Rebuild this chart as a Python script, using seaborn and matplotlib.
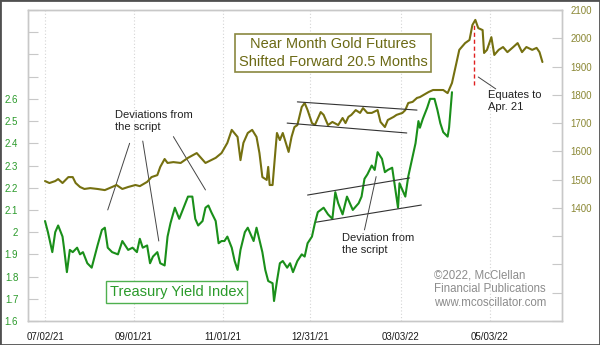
import numpy as np
import pandas as pd
import matplotlib
matplotlib.use("Agg")
import matplotlib.pyplot as plt
import matplotlib.dates as mdates
from matplotlib.patches import Rectangle
import seaborn as sns

# ---------------- data ----------------
tsy_dates = [
    '2021-07-02', '2021-07-04', '2021-07-07', '2021-07-09', '2021-07-11', '2021-07-14', '2021-07-15',
    '2021-07-17', '2021-07-19', '2021-07-21', '2021-07-24', '2021-07-26', '2021-07-28', '2021-07-31',
    '2021-08-03', '2021-08-07', '2021-08-10', '2021-08-12', '2021-08-14', '2021-08-17', '2021-08-21',
    '2021-08-24', '2021-08-28', '2021-08-31',
    '2021-09-03', '2021-09-05', '2021-09-07', '2021-09-10', '2021-09-12', '2021-09-14', '2021-09-17',
    '2021-09-19', '2021-09-22', '2021-09-24', '2021-09-26', '2021-09-29',
    '2021-10-02', '2021-10-05', '2021-10-08', '2021-10-11', '2021-10-13', '2021-10-15', '2021-10-18',
    '2021-10-20', '2021-10-22', '2021-10-24', '2021-10-27', '2021-10-29', '2021-10-31',
    '2021-11-02', '2021-11-04', '2021-11-07', '2021-11-09', '2021-11-11', '2021-11-13', '2021-11-16',
    '2021-11-18', '2021-11-22', '2021-11-24', '2021-11-28', '2021-11-30',
    '2021-12-02', '2021-12-05', '2021-12-06', '2021-12-08', '2021-12-10', '2021-12-12', '2021-12-15',
    '2021-12-17', '2021-12-19', '2021-12-22', '2021-12-25', '2021-12-27', '2021-12-29',
    '2022-01-01', '2022-01-03', '2022-01-05', '2022-01-09', '2022-01-12', '2022-01-15', '2022-01-17',
    '2022-01-19', '2022-01-22', '2022-01-25', '2022-01-27', '2022-01-29',
    '2022-02-02', '2022-02-04', '2022-02-06', '2022-02-08', '2022-02-11', '2022-02-13', '2022-02-15',
    '2022-02-18', '2022-02-20', '2022-02-22', '2022-02-25', '2022-02-27',
    '2022-03-01', '2022-03-02', '2022-03-04', '2022-03-06', '2022-03-08', '2022-03-11', '2022-03-13',
    '2022-03-15', '2022-03-16', '2022-03-18', '2022-03-21', '2022-03-23', '2022-03-26', '2022-03-28',
    '2022-03-30',
    '2022-04-01', '2022-04-04', '2022-04-05', '2022-04-07',
]
tsy_values = [
    2.05, 2.00, 1.91, 2.00, 2.03, 1.98, 1.93,
    1.82, 1.92, 1.91, 1.93, 1.90, 1.91, 1.86,
    1.84, 1.94, 2.01, 2.02, 1.93, 1.91, 1.90,
    1.96, 1.92, 1.93,
    1.91, 1.97, 1.93, 1.94, 1.86, 1.89, 1.91,
    1.86, 1.85, 1.98, 2.04, 2.11,
    2.06, 2.11, 2.16, 2.16, 2.06, 2.03, 2.05,
    2.11, 2.12, 2.09, 2.05, 1.95, 1.96,
    1.96, 1.98, 1.93, 1.87, 1.83, 1.92, 2.00,
    2.02, 1.96, 2.02, 1.91, 1.83,
    1.78, 1.77, 1.69, 1.78, 1.86, 1.87, 1.84,
    1.86, 1.82, 1.87, 1.90, 1.89, 1.95,
    1.98, 2.04, 2.09, 2.11, 2.08, 2.06, 2.18,
    2.13, 2.08, 2.16, 2.13, 2.10,
    2.13, 2.16, 2.24, 2.26, 2.30, 2.28, 2.36,
    2.33, 2.27, 2.28, 2.29, 2.20,
    2.11, 2.22, 2.19, 2.16, 2.25, 2.34, 2.40,
    2.50, 2.47, 2.51, 2.56, 2.60, 2.60, 2.55,
    2.49,
    2.45, 2.43, 2.47, 2.63,
]

gold_dates = [
    '2021-07-02', '2021-07-05', '2021-07-09', '2021-07-11', '2021-07-14', '2021-07-18', '2021-07-21',
    '2021-07-23', '2021-07-26', '2021-07-29',
    '2021-08-02', '2021-08-07', '2021-08-12', '2021-08-17', '2021-08-20', '2021-08-24', '2021-08-28',
    '2021-09-02', '2021-09-05', '2021-09-10', '2021-09-13', '2021-09-17', '2021-09-19', '2021-09-22',
    '2021-09-24', '2021-09-28',
    '2021-10-03', '2021-10-08', '2021-10-14', '2021-10-20', '2021-10-27', '2021-10-31',
    '2021-11-04', '2021-11-07', '2021-11-11', '2021-11-13', '2021-11-15', '2021-11-18', '2021-11-21',
    '2021-11-24', '2021-11-26', '2021-11-28',
    '2021-12-01', '2021-12-02', '2021-12-03', '2021-12-05', '2021-12-07', '2021-12-08', '2021-12-10',
    '2021-12-12', '2021-12-16', '2021-12-18', '2021-12-20', '2021-12-22', '2021-12-25', '2021-12-27',
    '2021-12-29',
    '2022-01-01', '2022-01-03', '2022-01-07', '2022-01-09', '2022-01-12', '2022-01-15', '2022-01-19',
    '2022-01-22', '2022-01-24', '2022-01-26', '2022-01-28', '2022-01-31',
    '2022-02-03', '2022-02-05', '2022-02-08', '2022-02-11', '2022-02-15', '2022-02-17', '2022-02-20',
    '2022-02-22', '2022-02-26', '2022-02-28',
    '2022-03-04', '2022-03-06', '2022-03-08', '2022-03-11', '2022-03-14', '2022-03-16', '2022-03-22',
    '2022-03-25',
    '2022-04-01', '2022-04-04', '2022-04-07', '2022-04-10', '2022-04-12', '2022-04-16', '2022-04-19',
    '2022-04-21', '2022-04-23', '2022-04-25', '2022-04-28', '2022-04-29',
    '2022-05-01', '2022-05-04', '2022-05-06', '2022-05-09', '2022-05-12', '2022-05-15', '2022-05-19',
    '2022-05-22', '2022-05-25', '2022-05-28',
    '2022-06-01', '2022-06-04', '2022-06-06', '2022-06-08',
]
gold_values = [
    1495, 1488, 1495, 1502, 1488, 1509, 1509, 1488, 1474, 1467,
    1470, 1467, 1463, 1474, 1481, 1467, 1474,
    1481, 1477, 1492, 1509, 1516, 1545, 1573, 1559, 1562,
    1559, 1577, 1594, 1559, 1577, 1594,
    1630, 1676, 1651, 1569, 1630, 1665, 1676, 1651, 1594, 1509,
    1499, 1545, 1481, 1481, 1605, 1665, 1640, 1665, 1598, 1651, 1686, 1693, 1757, 1771, 1746,
    1700, 1693, 1739, 1729, 1693, 1704, 1693, 1718, 1700, 1722, 1729, 1746,
    1736, 1753, 1736, 1736, 1746, 1704, 1686, 1711, 1722, 1729,
    1736, 1746, 1771, 1775, 1789, 1792, 1810, 1817,
    1817, 1806, 1842, 1912, 1959, 1983, 1994, 2047, 2065, 2036, 2029, 1948,
    1959, 2004, 1941, 1959, 1969, 1951, 1969, 1983, 1951, 1969,
    1959, 1966, 1951, 1916,
]

x_tick_dates = ['2021-07-02', '2021-09-01', '2021-11-01', '2021-12-31', '2022-03-03', '2022-05-03']
tsy_ticks = [1.6, 1.7, 1.8, 1.9, 2.0, 2.1, 2.2, 2.3, 2.4, 2.5, 2.6, 2.7, 2.8, 2.9, 3.0]
tsy_tick_labels = ['1.6', '1.7', '1.8', '1.9', '2', '2.1', '2.2', '2.3', '2.4', '2.5', '2.6', '', '', '', '']
gold_ticks = [1000, 1100, 1200, 1300, 1400, 1500, 1600, 1700, 1800, 1900, 2000, 2100]
gold_tick_labels = ['', '', '', '', '1400', '1500', '1600', '1700', '1800', '1900', '2000', '2100']

title_text = 'Near Month Gold Futures\nShifted Forward 20.5 Months'
tsy_label = 'Treasury Yield Index'
note_left = 'Deviations from\nthe script'
note_mid = 'Deviation from\nthe script'
note_right = 'Equates to\nApr. 21'
credit = '\u00a92022, McClellan\nFinancial Publications\nwww.mcoscillator.com'

# annotation lines (data coordinates)
gold_channel_upper = (['2021-12-22', '2022-03-14'], [1775, 1746])
gold_channel_lower = (['2021-12-15', '2022-03-07'], [1700, 1665])
tsy_channel_upper = (['2021-12-29', '2022-03-09'], [2.167, 2.244])
tsy_channel_lower = (['2022-01-04', '2022-03-17'], [2.045, 2.122])
tsy_pointers = [
    (['2021-08-29', '2021-08-14'], [2.40, 2.10]),
    (['2021-09-07', '2021-09-18'], [2.41, 1.96]),
    (['2021-09-28', '2021-10-20'], [2.43, 2.19]),
    (['2022-02-14', '2022-02-06'], [2.25, 2.01]),
]
gold_pointer = (['2022-04-25', '2022-05-07'], [1863, 1821])
shift_marker = (['2022-04-22', '2022-04-22'], [1835, 2047])

# ---------------- styling ----------------
sns.set_style('white')
plt.rcParams['font.family'] = ['Liberation Sans', 'DejaVu Sans']

GOLD = '#757010'
GOLD_TXT = '#6b6914'
GOLD_TICK = '#8a8734'
GREEN = '#1a8f1a'
GREEN_TXT = '#2a9a2a'
FRAME = '#c8c8c8'

fig = plt.figure(figsize=(6.0, 3.45), dpi=100)
ax = fig.add_axes([28 / 600, 24 / 345, 534 / 600, 311 / 345])
ax2 = ax.twinx()

tsy_df = pd.DataFrame({'date': pd.to_datetime(tsy_dates), 'value': tsy_values})
gold_df = pd.DataFrame({'date': pd.to_datetime(gold_dates), 'value': gold_values})

sns.lineplot(data=tsy_df, x='date', y='value', ax=ax, color=GREEN, lw=1.5)
sns.lineplot(data=gold_df, x='date', y='value', ax=ax2, color=GOLD, lw=1.5)

for a in (ax, ax2):
    a.set_xlabel('')
    a.set_ylabel('')
    for s in a.spines.values():
        s.set_color(FRAME)
        s.set_linewidth(1.0)

ax.set_xlim(pd.Timestamp('2021-06-20 08:00'), pd.Timestamp('2022-06-21 10:00'))
ax.set_ylim(1.6, 3.0)
ax2.set_ylim(1000, 2100)

ax.set_xticks(pd.to_datetime(x_tick_dates))
ax.xaxis.set_major_formatter(mdates.DateFormatter('%m/%d/%y'))
ax.tick_params(axis='x', length=0, pad=8, labelsize=7, labelcolor='#1a1a1a')
ax.grid(axis='x', color='#d4d4d4', linestyle=(0, (1, 2)), linewidth=0.8)
ax.grid(axis='y', visible=False)
ax2.grid(False)

ax.set_yticks(tsy_ticks)
ax.set_yticklabels(tsy_tick_labels)
ax.tick_params(axis='y', direction='in', length=7, color=FRAME, pad=7,
               labelsize=7, labelcolor=GREEN_TXT)
ax2.set_yticks(gold_ticks)
ax2.set_yticklabels(gold_tick_labels)
ax2.tick_params(axis='y', direction='in', length=7, color=FRAME, pad=6,
                labelsize=7, labelcolor=GOLD_TICK)

# channel lines
for xs, ys in (gold_channel_upper, gold_channel_lower):
    ax2.plot(pd.to_datetime(xs), ys, color='#333333', lw=0.8)
for xs, ys in (tsy_channel_upper, tsy_channel_lower):
    ax.plot(pd.to_datetime(xs), ys, color='#333333', lw=0.8)
for xs, ys in tsy_pointers:
    ax.plot(pd.to_datetime(xs), ys, color='#444444', lw=0.7)
ax2.plot(pd.to_datetime(gold_pointer[0]), gold_pointer[1], color='#444444', lw=0.7)
ax2.plot(pd.to_datetime(shift_marker[0]), shift_marker[1], color='#e02020', lw=1.0,
         linestyle=(0, (3, 2)))

# texts
ax2.text(0.572, 0.862, title_text, transform=ax2.transAxes, ha='center', va='center',
         fontsize=10.5, color=GOLD_TXT, linespacing=1.3,
         bbox=dict(boxstyle='square,pad=0.25', fc='white', ec='#8a8740', lw=1.2))
ax2.text(0.278, 0.093, tsy_label, transform=ax2.transAxes, ha='center', va='center',
         fontsize=10.5, color=GREEN_TXT,
         bbox=dict(boxstyle='square,pad=0.25', fc='white', ec='#4fb04f', lw=1.0))
ax2.text(0.163, 0.677, note_left, transform=ax2.transAxes, ha='left', va='top',
         fontsize=8, color='#222222', linespacing=1.2)
ax2.text(0.588, 0.282, note_mid, transform=ax2.transAxes, ha='left', va='top',
         fontsize=8, color='#222222', linespacing=1.2)
ax2.text(0.861, 0.742, note_right, transform=ax2.transAxes, ha='left', va='top',
         fontsize=8, color='#222222', linespacing=1.2)
ax2.text(0.760, 0.165, credit, transform=ax2.transAxes, ha='left', va='top',
         fontsize=8.3, color='#8c8c8c', linespacing=1.2)

# outer border
fig.patches.append(Rectangle((0, 0), 1, 1, transform=fig.transFigure, fill=False,
                             ec='#505050', lw=2.0))

fig.savefig('out.png', dpi=100)
